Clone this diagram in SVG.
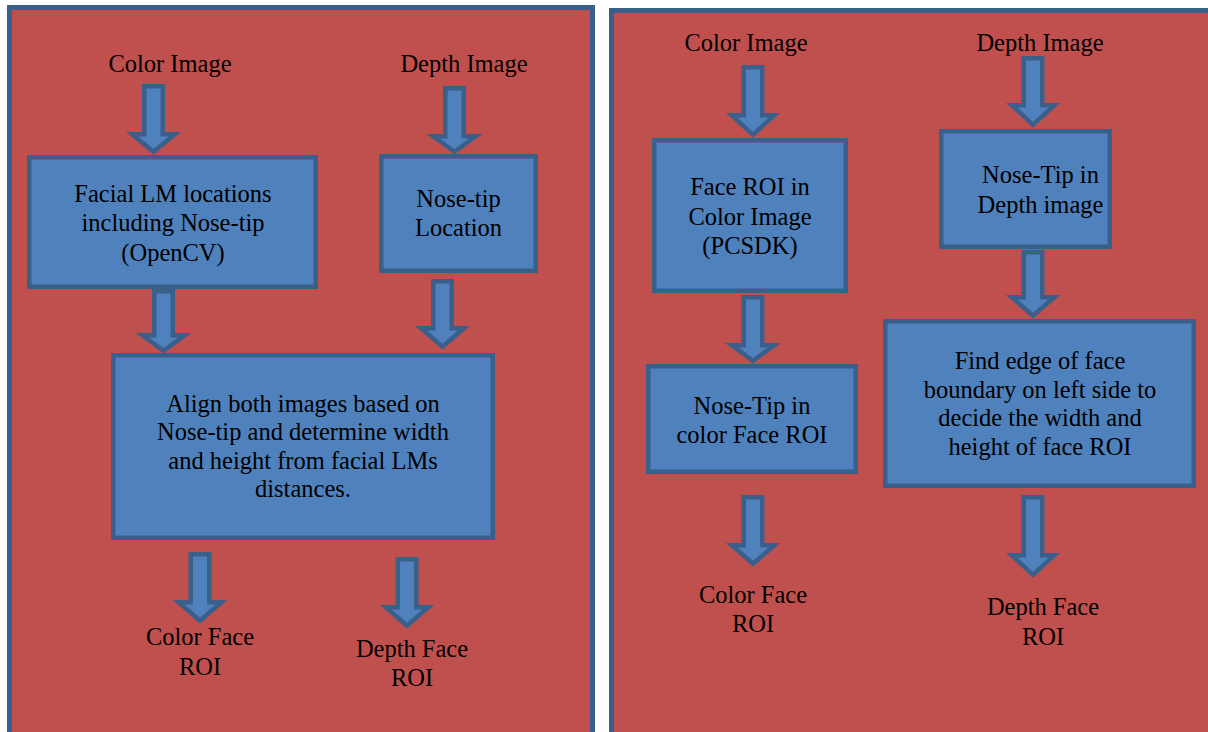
<svg xmlns="http://www.w3.org/2000/svg" width="1208" height="732" viewBox="0 0 1208 732">
<style>
.panel{fill:#C0504D;stroke:#3A5F8B;stroke-width:5}
.box{fill:#4F81BD;stroke:#3A5F8B;stroke-width:4.5}
.arr{fill:#4F81BD;stroke:#3A5F8B;stroke-width:4.5;stroke-linejoin:miter}
.t{font-family:'Liberation Serif',Tinos,'Times New Roman','DejaVu Serif',serif;font-size:24.5px;fill:#000;text-anchor:middle}
</style>
<rect width="1208" height="732" fill="#FFFFFF"/>
<g id="panel-left"><rect class="panel" x="9.5" y="7.5" width="583" height="740"/></g>
<g id="panel-right"><rect class="panel" x="611.5" y="10.5" width="620" height="740"/></g>

<g id="connectors">
<path class="arr" d="M144.25,86.25 H162.75 V134.25 H174.75 L153.5,151.8 L132.25,134.25 H144.25 Z"/>
<path class="arr" d="M445.25,88.25 H463.75 V136.25 H475.75 L454.5,151.8 L433.25,136.25 H445.25 Z"/>
<path class="arr" d="M154.25,291.25 H172.75 V335.25 H184.75 L163.5,350.8 L142.25,335.25 H154.25 Z"/>
<path class="arr" d="M433.25,281.25 H451.75 V328.25 H463.75 L442.5,346.8 L421.25,328.25 H433.25 Z"/>
<path class="arr" d="M190.75,554.25 H209.25 V602.25 H221.25 L200,620.8 L178.75,602.25 H190.75 Z"/>
<path class="arr" d="M397.75,559.25 H416.25 V607.25 H428.25 L407,625.8 L385.75,607.25 H397.75 Z"/>
<path class="arr" d="M743.75,67.25 H762.25 V115.25 H774.25 L753,134.8 L731.75,115.25 H743.75 Z"/>
<path class="arr" d="M743.75,297.25 H762.25 V345.25 H774.25 L753,360.8 L731.75,345.25 H743.75 Z"/>
<path class="arr" d="M743.75,497.25 H762.25 V545.25 H774.25 L753,563.8 L731.75,545.25 H743.75 Z"/>
<path class="arr" d="M1023.75,58.25 H1042.25 V105.25 H1054.25 L1033,124.8 L1011.75,105.25 H1023.75 Z"/>
<path class="arr" d="M1023.75,252.25 H1042.25 V297.25 H1054.25 L1033,315.8 L1011.75,297.25 H1023.75 Z"/>
<path class="arr" d="M1023.75,497.25 H1042.25 V555.25 H1054.25 L1033,574.8 L1011.75,555.25 H1023.75 Z"/>
</g>

<g id="label-color-left"><text class="t" x="170" y="72">Color Image</text></g>
<g id="label-depth-left"><text class="t" x="464" y="72">Depth Image</text></g>

<g id="node-facial-lm">
<rect class="box" x="29.25" y="157.25" width="286.5" height="129.5"/>
<text class="t" x="173" y="202">Facial LM locations</text>
<text class="t" x="173" y="231">including Nose-tip</text>
<text class="t" x="173" y="261">(OpenCV)</text>
</g>
<g id="node-nosetip-location">
<rect class="box" x="381.25" y="156.25" width="154.5" height="114.5"/>
<text class="t" x="458.5" y="207">Nose-tip</text>
<text class="t" x="458.5" y="236">Location</text>
</g>
<g id="node-align">
<rect class="box" x="113.25" y="355.25" width="379.5" height="182.5"/>
<text class="t" x="303" y="412">Align both images based on</text>
<text class="t" x="303" y="440">Nose-tip and determine width</text>
<text class="t" x="303" y="468.5">and height from facial LMs</text>
<text class="t" x="303" y="497">distances.</text>
</g>
<g id="label-colorface-left">
<text class="t" x="200" y="645">Color Face</text>
<text class="t" x="200" y="674.5">ROI</text>
</g>
<g id="label-depthface-left">
<text class="t" x="412" y="657">Depth Face</text>
<text class="t" x="412" y="686">ROI</text>
</g>

<g id="label-color-right"><text class="t" x="746" y="51">Color Image</text></g>
<g id="label-depth-right"><text class="t" x="1040" y="51">Depth Image</text></g>

<g id="node-face-roi">
<rect class="box" x="654.25" y="140.25" width="191.5" height="150.5"/>
<text class="t" x="750" y="195">Face ROI in</text>
<text class="t" x="750" y="224.5">Color Image</text>
<text class="t" x="750" y="254">(PCSDK)</text>
</g>
<g id="node-nosetip-color">
<rect class="box" x="648.25" y="366.25" width="207.5" height="105.5"/>
<text class="t" x="752" y="413.5">Nose-Tip in</text>
<text class="t" x="752" y="442.5">color Face ROI</text>
</g>
<g id="label-colorface-right">
<text class="t" x="753" y="603">Color Face</text>
<text class="t" x="753" y="632">ROI</text>
</g>
<g id="node-nosetip-depth">
<rect class="box" x="941.25" y="131.25" width="168.5" height="115.5"/>
<text class="t" x="1040.5" y="183">Nose-Tip in</text>
<text class="t" x="1040.5" y="213">Depth image</text>
</g>
<g id="node-find-edge">
<rect class="box" x="885.25" y="321.25" width="308.5" height="164.5"/>
<text class="t" x="1040" y="368.5">Find edge of face</text>
<text class="t" x="1040" y="397.5">boundary on left side to</text>
<text class="t" x="1040" y="425.5">decide the width and</text>
<text class="t" x="1040" y="455">height of face ROI</text>
</g>
<g id="label-depthface-right">
<text class="t" x="1043" y="615">Depth Face</text>
<text class="t" x="1043" y="645">ROI</text>
</g>
</svg>
